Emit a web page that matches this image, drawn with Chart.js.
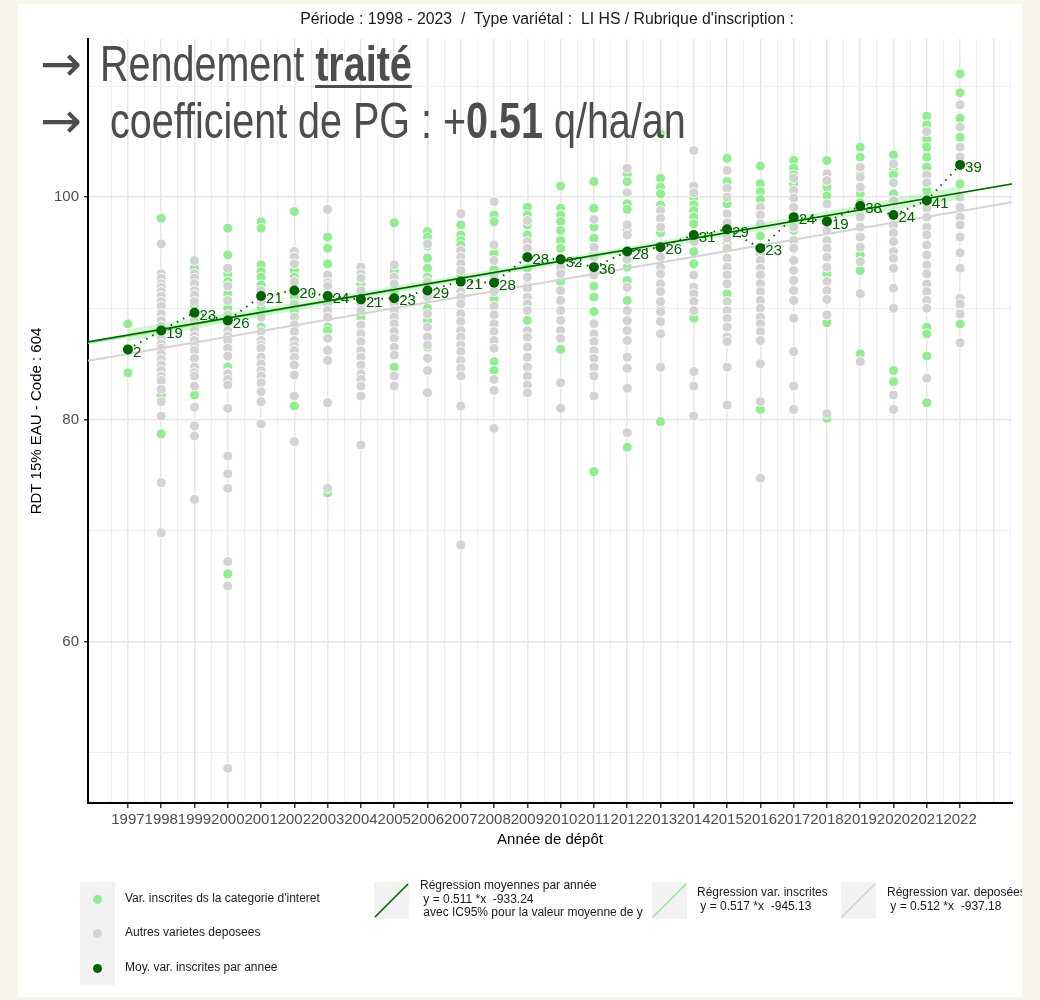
<!DOCTYPE html>
<html>
<head>
<meta charset="utf-8">
<script src="https://cdn.jsdelivr.net/npm/chart.js@4.4.1/dist/chart.umd.min.js"></script>
<style>
  body { margin: 0; background: #f6f5e8; font-family: "Liberation Sans", Arial, sans-serif; }
  #panel { position: absolute; left: 18px; top: 4px; width: 1004px; height: 993px; background: #fff; }
  #chart { position: absolute; left: 0; top: 0; }
  .sub { position: absolute; left: 0; width: 1094px; top: 10px; text-align: center; font-size: 15.8px; color: #1a1a1a; white-space: pre; }
  .big { position: absolute; font-family: "Liberation Sans", sans-serif; font-size: 50px; line-height: 49px; color: #4d4d4d; white-space: pre; transform: scaleX(0.79); transform-origin: 0 0; }
  .arrow { position: absolute; font-family: "DejaVu Sans", sans-serif; font-size: 50px; line-height: 49px; color: #4d4d4d; }
  .key { position: absolute; background: #f2f2f2; }
  .dot { position: absolute; width: 9px; height: 9px; border-radius: 50%; }
  .lg { position: absolute; font-size: 12px; line-height: 13.5px; color: #1a1a1a; white-space: pre; }
</style>
</head>
<body>
<div id="panel"></div>
<canvas id="chart" width="1040" height="1000"></canvas>

<div class="sub">Période : 1998 - 2023  /  Type variétal :  LI HS / Rubrique d'inscription :</div>

<div class="arrow" style="left:40px;top:40px">→</div>
<div class="big" style="left:100px;top:40px">Rendement <b style="text-decoration:underline;text-decoration-thickness:3px;text-underline-offset:4px">traité</b></div>
<div class="arrow" style="left:40px;top:97px">→</div>
<div class="big" style="left:110px;top:97px">coefficient de PG : +<b>0.51</b> q/ha/an</div>

<!-- legende -->
<div class="key" style="left:80px;top:882px;width:35px;height:103px"></div>
<div class="dot" style="left:93px;top:895px;background:#90ee90"></div>
<div class="dot" style="left:93px;top:929px;background:#d3d3d3"></div>
<div class="dot" style="left:93px;top:964px;background:#006400"></div>
<div class="lg" style="left:125px;top:892px">Var. inscrites ds la categorie d'interet</div>
<div class="lg" style="left:125px;top:926px">Autres varietes deposees</div>
<div class="lg" style="left:125px;top:961px">Moy. var. inscrites par annee</div>

<div class="key" style="left:374px;top:882px;width:35px;height:37px">
  <svg width="35" height="37"><line x1="1" y1="35" x2="34" y2="2" stroke="#006400" stroke-width="1.6"/></svg>
</div>
<div class="lg" style="left:420px;top:879px">Régression moyennes par année
 y = 0.511 *x  -933.24
 avec IC95% pour la valeur moyenne de y</div>

<div class="key" style="left:652px;top:882px;width:35px;height:37px">
  <svg width="35" height="37"><line x1="1" y1="35" x2="34" y2="2" stroke="#90ee90" stroke-width="1.6"/></svg>
</div>
<div class="lg" style="left:697px;top:886px">Régression var. inscrites
 y = 0.517 *x  -945.13</div>

<div class="key" style="left:841px;top:882px;width:35px;height:37px">
  <svg width="35" height="37"><line x1="1" y1="35" x2="34" y2="2" stroke="#d3d3d3" stroke-width="1.6"/></svg>
</div>
<div class="lg" style="left:887px;top:886px;width:135px;overflow:hidden">Régression var. deposées
 y = 0.512 *x  -937.18</div>

<script>
// annees de depot
const years = [1997, 1998, 1999, 2000, 2001, 2002, 2003, 2004, 2005, 2006, 2007, 2008, 2009,
  2010, 2011, 2012, 2013, 2014, 2015, 2016, 2017, 2018, 2019, 2020, 2021, 2022];

// moyennes des var. inscrites + effectifs
const meanValues = [86.3, 88.0, 89.6, 88.9, 91.1, 91.6, 91.1, 90.8, 90.9, 91.6, 92.4, 92.3, 94.6,
  94.4, 93.7, 95.1, 95.5, 96.6, 97.1, 95.4, 98.2, 97.8, 99.2, 98.4, 99.7, 102.9];
const meanCounts = [2, 19, 23, 26, 21, 20, 24, 21, 23, 29, 21, 28, 28, 32, 36, 28, 26, 31, 29, 23, 24, 19, 38, 24, 41, 39];

// var. inscrites ds la categorie (une liste par annee)
const greenValues = [
  [88.6, 84.2],
  [98.1, 90.5, 90.0, 89.2, 88.3, 82.2, 78.7],
  [93.6, 92.0, 90.9, 90.3, 89.5, 82.2],
  [97.2, 94.8, 93.1, 92.4, 91.3, 90.0, 84.7, 84.2, 66.1],
  [97.8, 97.2, 93.9, 93.3, 92.8, 92.1, 90.1, 88.3],
  [98.7, 94.6, 93.4, 92.8, 91.0, 89.8, 81.2],
  [96.4, 95.4, 94.0, 92.5, 88.3, 88.0, 73.4],
  [92.2, 90.0, 89.2],
  [97.7, 93.4, 91.5, 84.7],
  [96.9, 96.4, 95.6, 94.5, 93.6, 92.8, 90.0, 88.9, 86.5],
  [97.5, 96.6, 96.1, 95.7, 93.0],
  [98.4, 97.8, 94.9, 93.5, 90.8, 85.2, 84.4],
  [99.1, 98.4, 97.5, 96.6, 93.6, 92.0, 88.9],
  [101.0, 99.0, 98.4, 97.8, 97.0, 96.1, 95.4, 92.4, 86.3],
  [101.4, 99.0, 97.3, 96.3, 94.9, 92.0, 91.0, 89.7, 75.3],
  [102.1, 101.4, 99.4, 98.9, 97.0, 93.7, 92.5, 90.7, 77.5],
  [105.7, 101.7, 100.9, 100.3, 99.3, 96.8, 89.9, 79.8],
  [100.0, 99.3, 98.8, 98.2, 97.6, 95.1, 94.0, 89.1],
  [103.5, 101.4, 99.4, 95.8, 91.3],
  [102.8, 101.2, 100.5, 99.8, 96.5, 80.9],
  [103.3, 102.6, 102.0, 101.2, 97.0],
  [103.3, 100.9, 100.1, 98.0, 93.1, 88.7, 80.1],
  [104.5, 103.6, 102.0, 100.3, 99.5, 94.8, 93.4, 85.9],
  [103.8, 102.6, 102.0, 100.3, 97.5, 84.4, 83.4],
  [107.3, 106.5, 105.2, 104.5, 103.6, 102.7, 100.6, 88.3, 87.7, 85.7, 81.5],
  [111.1, 109.4, 107.1, 105.4, 101.2, 90.2, 88.6]
];

// autres varietes deposees
const grayValues = [
  [],
  [95.8, 93.1, 92.7, 92.2, 91.9, 91.5, 91.1, 90.6, 90.2, 89.5, 88.9, 88.4, 87.8, 87.3, 86.8, 86.4, 85.9, 85.4, 84.9, 84.4, 83.9, 83.5, 82.7, 81.6, 80.3, 74.3, 69.8],
  [94.3, 93.1, 92.7, 92.2, 91.6, 91.2, 90.6, 88.9, 88.4, 88.0, 87.5, 87.1, 86.6, 86.2, 85.5, 84.7, 84.2, 83.9, 83.0, 81.1, 79.4, 78.5, 72.8],
  [93.6, 92.0, 90.7, 89.4, 88.6, 88.0, 87.5, 87.1, 86.4, 85.7, 84.1, 83.6, 83.1, 81.0, 76.7, 75.1, 73.8, 67.2, 65.0, 48.6],
  [91.6, 90.6, 89.2, 87.9, 87.1, 86.7, 86.4, 85.6, 85.0, 84.4, 83.9, 83.3, 82.5, 81.6, 79.6],
  [95.1, 94.6, 94.0, 92.4, 90.4, 89.2, 88.5, 87.9, 87.1, 86.6, 86.2, 85.6, 84.9, 84.0, 82.1, 78.0],
  [98.9, 93.0, 92.3, 92.0, 90.4, 89.8, 89.2, 87.3, 86.2, 85.3, 81.5, 73.8],
  [93.7, 93.1, 92.7, 91.6, 90.4, 89.8, 88.5, 87.7, 87.0, 86.2, 85.6, 84.9, 84.1, 83.6, 83.0, 82.1, 77.7],
  [93.9, 92.8, 92.2, 90.4, 89.8, 89.2, 88.6, 87.9, 87.3, 86.5, 85.8, 83.9, 83.0],
  [95.8, 92.4, 91.0, 89.5, 88.3, 87.4, 86.7, 85.5, 84.4, 82.4],
  [98.5, 95.2, 94.6, 94.0, 93.4, 91.5, 91.0, 90.4, 89.5, 88.8, 88.0, 87.4, 86.7, 86.1, 85.3, 84.6, 83.9, 81.2, 68.7],
  [99.6, 95.7, 94.3, 92.9, 91.5, 90.2, 89.4, 88.6, 87.9, 87.1, 86.4, 83.6, 82.6, 79.2],
  [97.9, 96.0, 95.4, 92.8, 91.8, 91.0, 90.4, 89.8, 88.0, 87.4, 86.5, 85.6, 84.7, 83.9, 83.1, 82.4],
  [93.7, 93.1, 91.6, 90.7, 89.8, 88.9, 88.0, 87.3, 83.3, 81.0],
  [98.0, 95.5, 94.6, 93.0, 88.6, 87.7, 87.0, 86.2, 85.5, 84.7, 83.9, 82.1],
  [102.6, 100.4, 97.5, 96.6, 94.4, 91.9, 89.8, 88.9, 88.0, 87.1, 85.6, 84.6, 82.8, 78.8],
  [98.8, 98.1, 97.3, 94.6, 93.7, 93.1, 92.2, 91.5, 90.6, 89.7, 88.8, 87.7, 84.7],
  [104.2, 101.0, 100.4, 96.0, 93.0, 91.9, 91.3, 90.6, 89.8, 84.3, 83.0, 80.3],
  [102.4, 100.8, 100.0, 98.5, 97.7, 96.3, 95.4, 94.5, 93.7, 93.0, 92.2, 90.6, 89.8, 89.1, 88.3, 87.4, 87.0, 84.7, 81.3],
  [99.1, 98.4, 97.6, 94.9, 94.3, 93.6, 93.0, 92.2, 91.5, 90.7, 90.0, 89.2, 88.6, 87.9, 87.1, 85.0, 81.6, 74.7],
  [101.7, 100.6, 99.9, 99.1, 97.3, 96.1, 95.4, 94.3, 93.4, 92.5, 91.6, 90.7, 89.1, 86.1, 83.0, 80.9],
  [102.1, 101.5, 99.4, 97.0, 96.1, 95.4, 94.6, 93.7, 92.4, 91.6, 90.8, 89.4, 80.5],
  [102.7, 101.8, 100.9, 98.2, 97.3, 96.4, 95.5, 94.2, 91.3, 85.2],
  [103.0, 101.3, 99.7, 97.5, 96.8, 96.0, 95.1, 94.5, 93.6, 91.8, 90.0, 82.2, 80.9],
  [105.9, 102.0, 101.3, 99.0, 98.2, 97.3, 96.6, 95.7, 94.8, 93.9, 93.1, 92.2, 91.5, 90.7, 90.0, 83.7],
  [108.3, 106.3, 104.5, 103.6, 100.0, 99.1, 98.2, 97.5, 96.4, 95.0, 93.6, 90.9, 90.4, 89.5, 86.9]
];

// droites de regression (lues aux bords de l'axe x)
const regYears = [1995.8, 2023.56];
const regMeans = [86.97, 101.18];
const regInscrites = [86.85, 101.2];
const regDeposees = [85.27, 99.53];

// IC95% autour de la regression des moyennes
const bandYears = [1997, 2001, 2005, 2009.5, 2014, 2018, 2022];
const bandLow = [87.03, 89.23, 91.38, 93.71, 95.99, 97.94, 99.79];
const bandHigh = [88.13, 90.03, 91.98, 94.25, 96.59, 98.74, 100.99];

const toPts = (xs, ys) => xs.map((x, i) => ({ x: x, y: ys[i] }));
const flatPts = (lists) => {
  const out = [];
  lists.forEach((vals, i) => vals.forEach(v => out.push({ x: years[i], y: v })));
  return out;
};

const xGrid = [];
for (let v = 1996.5; v <= 2023.5; v += 0.5) xGrid.push(v);
const yGrid = [50, 60, 70, 80, 90, 100, 110];

const isYearLabel = (v) => Number.isInteger(v) && v >= 1997 && v <= 2022;
const isMajorY = (v) => v === 60 || v === 80 || v === 100;

const meanLabels = {
  id: "meanLabels",
  afterDatasetsDraw(chart) {
    const meta = chart.getDatasetMeta(0);
    const c = chart.ctx;
    c.save();
    c.font = '15px "Liberation Sans", Arial, sans-serif';
    c.fillStyle = "#006400";
    c.textBaseline = "middle";
    meta.data.forEach((pt, i) => {
      c.fillText(String(meanCounts[i]), pt.x + 5, pt.y + 3);
    });
    c.restore();
  }
};

const ctx = document.getElementById("chart");
new Chart(ctx, {
  type: "scatter",
  data: {
    datasets: [
      {
        label: "Moy. var. inscrites par annee",
        data: toPts(years, meanValues),
        showLine: true,
        borderColor: "#006400",
        borderWidth: 2,
        borderDash: [1.5, 5.5],
        pointRadius: 5,
        pointBackgroundColor: "#006400",
        pointBorderWidth: 0,
        order: 0
      },
      {
        type: "line",
        data: toPts(regYears, regMeans),
        borderColor: "#006400",
        borderWidth: 1.6,
        pointRadius: 0,
        fill: false,
        order: 2
      },
      {
        type: "line",
        data: toPts(bandYears, bandLow),
        borderWidth: 0,
        pointRadius: 0,
        fill: false,
        tension: 0.3,
        order: 3
      },
      {
        type: "line",
        data: toPts(bandYears, bandHigh),
        borderWidth: 0,
        pointRadius: 0,
        fill: "-1",
        backgroundColor: "rgba(144, 238, 144, 0.4)",
        tension: 0.3,
        order: 3
      },
      {
        type: "line",
        data: toPts(regYears, regInscrites),
        borderColor: "#90ee90",
        borderWidth: 1.6,
        pointRadius: 0,
        fill: false,
        order: 3.5
      },
      {
        type: "line",
        data: toPts(regYears, regDeposees),
        borderColor: "#d3d3d3",
        borderWidth: 2,
        pointRadius: 0,
        fill: false,
        order: 4
      },
      {
        label: "Autres varietes deposees",
        data: flatPts(grayValues),
        pointRadius: 5,
        pointBackgroundColor: "#d3d3d3",
        pointBorderColor: "#ffffff",
        pointBorderWidth: 1,
        order: 5
      },
      {
        label: "Var. inscrites ds la categorie d'interet",
        data: flatPts(greenValues),
        pointRadius: 5,
        pointBackgroundColor: "#90ee90",
        pointBorderColor: "#ffffff",
        pointBorderWidth: 1,
        order: 6
      }
    ]
  },
  options: {
    responsive: false,
    animation: false,
    events: [],
    layout: { padding: { left: 26, right: 28, top: 39, bottom: 151 } },
    plugins: { legend: { display: false }, tooltip: { enabled: false } },
    scales: {
      x: {
        type: "linear",
        min: 1995.8,
        max: 2023.56,
        afterBuildTicks: (scale) => { scale.ticks = xGrid.map(v => ({ value: v })); },
        afterFit: (scale) => { scale.height = 46; },
        border: { display: true, color: "#000", width: 2 },
        grid: {
          color: (c) => Number.isInteger(c.tick.value) ? "#e6e6e6" : "#efefef",
          lineWidth: (c) => Number.isInteger(c.tick.value) ? 1.5 : 1,
          tickLength: 5,
          tickColor: (c) => isYearLabel(c.tick.value) ? "#333" : "rgba(0,0,0,0)"
        },
        ticks: {
          autoSkip: false,
          maxRotation: 0,
          minRotation: 0,
          padding: 3,
          color: "#4d4d4d",
          font: { size: 15, family: '"Liberation Sans", Arial' },
          callback: (v) => isYearLabel(v) ? String(v) : ""
        },
        title: {
          display: true,
          text: "Année de dépôt",
          color: "#000",
          padding: 0,
          font: { size: 15, family: '"Liberation Sans", Arial' }
        }
      },
      y: {
        min: 45.48,
        max: 114.23,
        afterBuildTicks: (scale) => { scale.ticks = yGrid.map(v => ({ value: v })); },
        afterFit: (scale) => { scale.width = 62; },
        border: { display: true, color: "#000", width: 2 },
        grid: {
          color: (c) => isMajorY(c.tick.value) ? "#e6e6e6" : "#efefef",
          lineWidth: (c) => isMajorY(c.tick.value) ? 1.5 : 1,
          tickLength: 4,
          tickColor: (c) => isMajorY(c.tick.value) ? "#333" : "rgba(0,0,0,0)"
        },
        ticks: {
          padding: 5,
          color: "#4d4d4d",
          font: { size: 15, family: '"Liberation Sans", Arial' },
          callback: (v) => isMajorY(v) ? String(v) : ""
        },
        title: {
          display: true,
          text: "RDT 15% EAU - Code : 604",
          color: "#000",
          padding: { top: 2, bottom: 0 },
          font: { size: 15, family: '"Liberation Sans", Arial' }
        }
      }
    }
  },
  plugins: [meanLabels]
});
</script>
</body>
</html>
